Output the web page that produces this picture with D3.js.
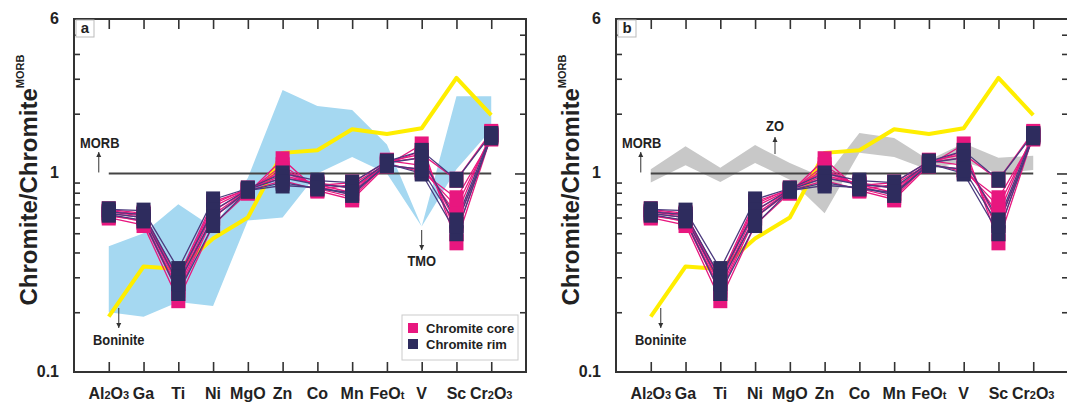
<!DOCTYPE html>
<html>
<head>
<meta charset="utf-8">
<title>Chromite / Chromite MORB</title>
<script src="https://cdn.jsdelivr.net/npm/d3@7"></script>
<style>
  body { margin: 0; background: #fff; }
  text { font-family: Arial, "Liberation Sans", sans-serif; }
</style>
</head>
<body>
<script>
// element order along the x axis
var elements = ["Al2O3","Ga","Ti","Ni","MgO","Zn","Co","Mn","FeOt","V","Sc","Cr2O3"];
// label pieces: [text, subscript?]
var elementLabels = [
  [["Al",0],["2",1],["O",0],["3",1]], [["Ga",0]], [["Ti",0]], [["Ni",0]], [["MgO",0]],
  [["Zn",0]], [["Co",0]], [["Mn",0]], [["FeO",0],["t",1]], [["V",0]], [["Sc",0]],
  [["Cr",0],["2",1],["O",0],["3",1]]
];

// boninite reference (yellow)
var boninite = [0.19,0.34,0.33,0.47,0.60,1.27,1.31,1.67,1.58,1.69,3.03,1.97];
// TMO field (blue, panel a)
var tmoUpper = [0.43,0.50,0.70,0.535,0.95,2.63,2.19,2.09,1.40,0.54,2.45,2.45];
var tmoLower = [0.20,0.19,0.225,0.215,0.58,0.60,1.00,1.21,1.00,0.54,1.05,1.66];
// ZO field (grey, panel b)
var zoUpper = [1.05,1.37,1.07,1.39,1.13,0.95,1.60,1.51,1.17,1.42,1.20,1.23];
var zoLower = [0.90,1.10,0.906,1.13,0.93,0.63,1.27,1.21,1.04,1.15,1.00,1.04];

// chromite core samples
var coreSamples = [
  [0.60,0.55,0.23,0.55,0.80,1.18,0.82,0.74,1.10,1.40,0.45,1.55],
  [0.62,0.57,0.25,0.60,0.81,1.10,0.84,0.76,1.12,1.30,0.50,1.58],
  [0.63,0.60,0.27,0.65,0.82,1.05,0.86,0.78,1.14,1.20,0.56,1.52],
  [0.65,0.62,0.28,0.68,0.83,0.98,0.88,0.80,1.16,1.10,0.62,1.60],
  [0.66,0.63,0.29,0.70,0.84,0.95,0.90,0.84,1.10,1.05,0.68,1.55],
  [0.61,0.58,0.26,0.62,0.82,0.92,0.83,0.88,1.12,1.02,0.75,1.50],
  [0.64,0.61,0.30,0.72,0.83,1.02,0.87,0.90,1.15,1.25,0.93,1.62]
];
// chromite rim samples
var rimSamples = [
  [0.66,0.65,0.33,0.74,0.84,1.00,0.92,0.90,1.15,1.30,0.93,1.58],
  [0.62,0.58,0.25,0.55,0.82,0.87,0.85,0.78,1.12,1.00,0.50,1.55],
  [0.64,0.62,0.30,0.65,0.83,0.95,0.88,0.85,1.13,1.20,0.58,1.57],
  [0.63,0.60,0.28,0.60,0.82,0.90,0.84,0.80,1.10,1.05,0.55,1.52]
];

var minorTicks = [0.2,0.3,0.4,0.5,0.6,0.7,0.8,0.9,2,3,4,5];
var tickLabels = [{v:6, t:"6"}, {v:1, t:"1"}, {v:0.1, t:"0.1"}];

var coreColor = "#e8177f", rimColor = "#2e2c5e";
var frameColor = "#333";

var svg = d3.select("body").append("svg")
    .attr("width", 1067).attr("height", 403);

function drawPanel(opt) {
  var left = opt.left, right = opt.right, top = 19, bottom = 372;
  var x = d3.scalePoint().domain(elements).range([left, right]).padding(1);
  var y = d3.scaleLog().domain([0.1, 6]).range([bottom, top]);
  var g = svg.append("g");

  // reference field
  if (opt.field) {
    var area = d3.area()
        .x(function(d, i) { return x(elements[i]); })
        .y0(function(d, i) { return y(opt.field.lower[i]); })
        .y1(function(d) { return y(d); });
    g.append("path").datum(opt.field.upper)
        .attr("d", area).attr("fill", opt.field.color);
  }

  // MORB line
  g.append("line")
      .attr("x1", x(elements[0])).attr("x2", x(elements[elements.length - 1]))
      .attr("y1", y(1)).attr("y2", y(1))
      .attr("stroke", "#444").attr("stroke-width", 2);

  // boninite
  var line = d3.line().x(function(d, i) { return x(elements[i]); }).y(function(d) { return y(d); });
  g.append("path").datum(boninite).attr("d", line)
      .attr("fill", "none").attr("stroke", "#ffee00").attr("stroke-width", 4)
      .attr("stroke-linejoin", "round");

  // sample lines
  coreSamples.forEach(function(s) {
    g.append("path").datum(s).attr("d", line).attr("fill", "none")
        .attr("stroke", coreColor).attr("stroke-width", 1.3);
  });
  rimSamples.forEach(function(s) {
    g.append("path").datum(s).attr("d", line).attr("fill", "none")
        .attr("stroke", "#4b3a7e").attr("stroke-width", 1.3);
  });

  // markers
  function squares(samples, color) {
    samples.forEach(function(s) {
      g.selectAll(null).data(s).enter().append("rect")
          .attr("x", function(d, i) { return x(elements[i]) - 7; })
          .attr("y", function(d) { return y(d) - 8; })
          .attr("width", 14).attr("height", 16)
          .attr("fill", color);
    });
  }
  squares(coreSamples, coreColor);
  squares(rimSamples, rimColor);

  // frame
  g.append("rect").attr("x", left).attr("y", top)
      .attr("width", right - left).attr("height", bottom - top)
      .attr("fill", "none").attr("stroke", frameColor).attr("stroke-width", 2);

  // inward ticks
  var axTop = g.append("g").attr("transform", "translate(0," + top + ")")
      .call(d3.axisBottom(x).tickSize(10).tickFormat(""));
  var axBot = g.append("g").attr("transform", "translate(0," + bottom + ")")
      .call(d3.axisTop(x).tickSize(10).tickFormat(""));
  var axL = g.append("g").attr("transform", "translate(" + left + ",0)")
      .call(d3.axisRight(y).tickValues(minorTicks).tickSize(6).tickFormat(""));
  var axR = g.append("g").attr("transform", "translate(" + right + ",0)")
      .call(d3.axisLeft(y).tickValues(minorTicks).tickSize(6).tickFormat(""));
  var axR1 = g.append("g").attr("transform", "translate(" + right + ",0)")
      .call(d3.axisLeft(y).tickValues([1]).tickSize(11).tickFormat(""));
  [axTop, axBot, axL, axR, axR1].forEach(function(a) {
    a.select(".domain").remove();
    a.selectAll("line").attr("stroke", frameColor).attr("stroke-width", 1.6);
  });

  // y tick labels
  g.selectAll(null).data(tickLabels).enter().append("text")
      .attr("x", left - 15).attr("y", function(d) { return y(d.v) + 5; })
      .attr("text-anchor", "end").attr("font-size", 16).attr("font-weight", "bold")
      .attr("fill", "#222").text(function(d) { return d.t; });

  // x labels with subscripts
  var xl = g.selectAll(null).data(elementLabels).enter().append("text")
      .attr("x", function(d, i) { return x(elements[i]); })
      .attr("y", 399).attr("text-anchor", "middle")
      .attr("font-size", 16).attr("font-weight", "bold").attr("fill", "#222");
  xl.each(function(parts) {
    var t = d3.select(this);
    parts.forEach(function(p) {
      t.append("tspan").text(p[0]).attr("font-size", p[1] ? 11 : 16);
    });
  });

  // y title
  var yt = g.append("text")
      .attr("transform", "translate(" + opt.titleX + ",180) rotate(-90)")
      .attr("text-anchor", "middle").attr("font-size", 24).attr("font-weight", "bold")
      .attr("fill", "#222");
  yt.append("tspan").text("Chromite/Chromite");
  yt.append("tspan").text("MORB").attr("font-size", 11).attr("dy", -13);

  // panel letter
  g.append("rect").attr("x", left + 2).attr("y", top + 1).attr("width", 18).attr("height", 17)
      .attr("fill", "#fff").attr("stroke", "#bbb");
  g.append("text").attr("x", left + 11).attr("y", top + 14).attr("text-anchor", "middle")
      .attr("font-size", 15).attr("font-weight", "bold").attr("fill", "#222").text(opt.letter);

  // annotations
  function arrow(xp, y1, y2) {
    g.append("line").attr("x1", xp).attr("x2", xp).attr("y1", y1).attr("y2", y2)
        .attr("stroke", "#333").attr("stroke-width", 1);
    var dir = y2 < y1 ? 1 : -1;
    g.append("path")
        .attr("d", "M" + (xp - 2.5) + "," + (y2 + dir * 5) + "L" + xp + "," + y2 + "L" + (xp + 2.5) + "," + (y2 + dir * 5) + "Z")
        .attr("fill", "#333");
  }
  function label(xp, yp, t) {
    g.append("text").attr("x", xp).attr("y", yp).attr("text-anchor", "middle")
        .attr("font-size", 14).attr("font-weight", "bold").attr("fill", "#222")
        .attr("transform", "translate(" + xp + "," + yp + ") scale(0.92,1) translate(" + (-xp) + "," + (-yp) + ")")
        .text(t);
  }
  var x0 = x(elements[0]);
  arrow(x0 - 10, y(1) - 1, 152);
  label(x0 - 9, 148, "MORB");
  arrow(x0 + 10, 308, 328);
  label(x0 + 10, 345, "Boninite");
  opt.extra(g, x, y, arrow, label);
}

drawPanel({
  left: 74, right: 526, letter: "a", titleX: 37,
  field: { upper: tmoUpper, lower: tmoLower, color: "#a5d8f1" },
  extra: function(g, x, y, arrow, label) {
    arrow(x("V"), 230, 250);
    label(x("V"), 266, "TMO");
    // legend
    var lg = g.append("g").attr("transform", "translate(402,315)");
    lg.append("rect").attr("width", 116).attr("height", 45)
        .attr("fill", "#fff").attr("stroke", "#ccc");
    [["Chromite core", coreColor], ["Chromite rim", rimColor]].forEach(function(e, i) {
      lg.append("rect").attr("x", 6).attr("y", 8 + i * 16).attr("width", 10).attr("height", 10)
          .attr("fill", e[1]);
      lg.append("text").attr("x", 24).attr("y", 18 + i * 16)
          .attr("font-size", 13).attr("font-weight", "bold").attr("fill", "#222")
          .text(e[0]);
    });
  }
});

drawPanel({
  left: 616, right: 1068, letter: "b", titleX: 579,
  field: { upper: zoUpper, lower: zoLower, color: "#c8c8c8" },
  extra: function(g, x, y, arrow, label) {
    arrow(775, 154, 137);
    label(775, 131, "ZO");
  }
});
</script>
</body>
</html>
